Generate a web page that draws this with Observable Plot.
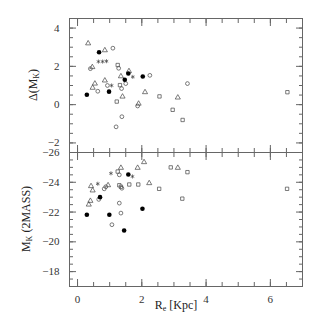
<!DOCTYPE html>
<html>
<head>
<meta charset="utf-8">
<script src="https://cdn.jsdelivr.net/npm/d3@7"></script>
<script src="https://cdn.jsdelivr.net/npm/@observablehq/plot@0.6"></script>
<style>
  body { margin: 0; background: #fff; }
  #wrap { position: relative; width: 320px; height: 320px; overflow: hidden; font-family: "Liberation Serif", "DejaVu Serif", serif; color: #222; }
  #wrap svg { display: block; }
  .lab { position: absolute; font-size: 12px; white-space: nowrap; line-height: 1; }
  .rot { transform: translate(-50%, -50%) rotate(-90deg); }
  .hor { transform: translate(-50%, -50%); }
  sub { font-size: 8px; vertical-align: -2px; }
</style>
</head>
<body>
<div id="wrap"></div>
<script>
// Top panel: Delta(M_K) vs R_e
const topX = [0.33,0.67,0.85,1.10,0.65,0.78,0.90,0.40,0.46,1.25,1.28,1.58,1.60,1.72,1.47,1.35,2.03,2.25,0.85,0.54,0.63,0.47,0.98,0.29,0.93,1.06,1.32,1.37,1.50,1.40,1.22,2.10,1.87,1.90,1.38,1.20,2.55,3.42,3.12,2.96,3.27,6.53];
const topY = [3.20,2.74,2.84,2.95,2.25,2.25,2.27,1.88,1.96,2.07,1.90,1.63,1.75,1.45,1.30,1.48,1.47,1.53,1.26,1.10,0.70,0.88,0.68,0.52,1.00,1.00,1.02,0.84,1.10,0.42,0.16,0.65,-0.07,0.05,-0.63,-1.16,0.43,1.10,0.37,-0.27,-0.80,0.65];
const topSym = ["triangle","filled","triangle","circle","asterisk","asterisk","asterisk","circle","triangle","square","circle","filled","triangle","asterisk","filled","triangle","filled","circle","triangle","triangle","circle","triangle","filled","filled","circle","asterisk","square","circle","circle","triangle","square","triangle","circle","triangle","circle","circle","square","circle","triangle","square","square","square"];

// Bottom panel: M_K (2MASS) vs R_e
const botX = [0.29,0.99,1.45,0.70,1.58,2.02,1.07,1.35,1.30,0.42,0.47,0.35,0.40,0.63,1.04,0.83,0.88,0.66,1.25,1.61,1.89,1.30,1.35,1.87,2.07,1.35,2.23,1.38,2.54,2.90,3.12,3.42,3.26,6.52,1.71,1.30,0.95];
const botY = [-21.82,-21.82,-20.76,-23.00,-24.52,-22.22,-21.15,-21.93,-22.60,-23.74,-23.45,-22.50,-22.75,-23.90,-24.60,-23.56,-23.70,-22.85,-24.72,-23.85,-23.85,-23.80,-23.70,-24.97,-25.35,-24.97,-23.94,-23.60,-23.56,-25.00,-24.97,-24.68,-22.90,-23.56,-24.39,-24.50,-23.80];
const botSym = ["filled","filled","filled","filled","filled","filled","circle","circle","circle","triangle","triangle","triangle","triangle","asterisk","asterisk","circle","circle","circle","square","square","square","square","square","triangle","triangle","triangle","triangle","circle","square","square","triangle","square","square","square","asterisk","circle","triangle"];

// Ticks
const xMajor = [0, 2, 4, 6];
const xMinor = d3.range(0, 7.01, 0.5);
const topMajor = [4, 2, 0, -2];
const topMinor = d3.range(-2.5, 4.51, 0.5);
const botMajor = [-26, -24, -22, -20, -18];
const botMinor = d3.range(-26, -16.99, 0.5);

const topData = topX.map((x, i) => ({x, y: topY[i], s: topSym[i]}));
const botData = botX.map((x, i) => ({x, y: botY[i], s: botSym[i]}));

const frameColor = "#666";
const fmt = d => d < 0 ? "\u2212" + Math.abs(d) : String(d);

function dots(data) {
  return [
    ...["circle","triangle","square"].map(sym => Plot.dot(data.filter(d => d.s === sym), {x: "x", y: "y", symbol: sym, r: 1.9, fill: "none", stroke: "#444", strokeWidth: 0.7})),
    Plot.dot(data.filter(d => d.s === "asterisk"), {x: "x", y: "y", symbol: "asterisk", r: 1.9, stroke: "#444", strokeWidth: 0.7}),
    Plot.dot(data.filter(d => d.s === "filled"), {x: "x", y: "y", symbol: "circle", r: 2.3, fill: "#000", stroke: "none"})
  ];
}

function frameTicks(yMajor, yMinor, withXLabels) {
  const marks = [
    Plot.axisX({anchor: "top", ticks: xMajor, tickSize: -7, text: null, stroke: frameColor, label: null}),
    Plot.axisX({anchor: "top", ticks: xMinor, tickSize: -4, text: null, stroke: frameColor, label: null}),
    Plot.axisX({anchor: "bottom", ticks: xMajor, tickSize: -7, text: null, stroke: frameColor, label: null}),
    Plot.axisX({anchor: "bottom", ticks: xMinor, tickSize: -4, text: null, stroke: frameColor, label: null}),
    Plot.axisY({anchor: "left", ticks: yMajor, tickSize: -7, text: null, stroke: frameColor, label: null}),
    Plot.axisY({anchor: "left", ticks: yMinor, tickSize: -4, text: null, stroke: frameColor, label: null}),
    Plot.axisY({anchor: "right", ticks: yMajor, tickSize: -7, text: null, stroke: frameColor, label: null}),
    Plot.axisY({anchor: "right", ticks: yMinor, tickSize: -4, text: null, stroke: frameColor, label: null}),
    Plot.axisY({anchor: "left", ticks: yMajor, tickSize: 0, tickPadding: 10, tickFormat: fmt, fontSize: 11, fill: "#333", label: null}),
    Plot.frame({stroke: frameColor, strokeWidth: 1})
  ];
  if (withXLabels) {
    marks.push(Plot.axisX({anchor: "bottom", ticks: xMajor, tickSize: 0, tickPadding: 9, tickFormat: fmt, fontSize: 11, fill: "#333", label: null}));
  }
  return marks;
}

const topPlot = Plot.plot({
  width: 320, height: 152,
  marginLeft: 69, marginRight: 18, marginTop: 18, marginBottom: 0,
  style: {fontFamily: "Liberation Serif, DejaVu Serif, serif", background: "transparent", overflow: "visible"},
  x: {domain: [-0.25, 7]},
  y: {domain: [-2.5, 4.5]},
  marks: [...frameTicks(topMajor, topMinor, false), ...dots(topData)]
});

const botPlot = Plot.plot({
  width: 320, height: 168,
  marginLeft: 69, marginRight: 18, marginTop: 0, marginBottom: 34,
  style: {fontFamily: "Liberation Serif, DejaVu Serif, serif", background: "transparent", overflow: "visible"},
  x: {domain: [-0.25, 7]},
  y: {domain: [-17, -26]},
  marks: [...frameTicks(botMajor, botMinor, true), ...dots(botData)]
});

const wrap = document.getElementById("wrap");
wrap.appendChild(topPlot);
wrap.appendChild(botPlot);

function addLabel(html, left, top, cls) {
  const el = document.createElement("div");
  el.className = "lab " + cls;
  el.style.left = left + "px";
  el.style.top = top + "px";
  el.innerHTML = html;
  wrap.appendChild(el);
}
addLabel("\u0394(M<sub>K</sub>)", 34, 85, "rot");
addLabel("M<sub>K</sub> (2MASS)", 27, 219, "rot");
addLabel("R<sub>e</sub> [Kpc]", 176, 306, "hor");
</script>
</body>
</html>
